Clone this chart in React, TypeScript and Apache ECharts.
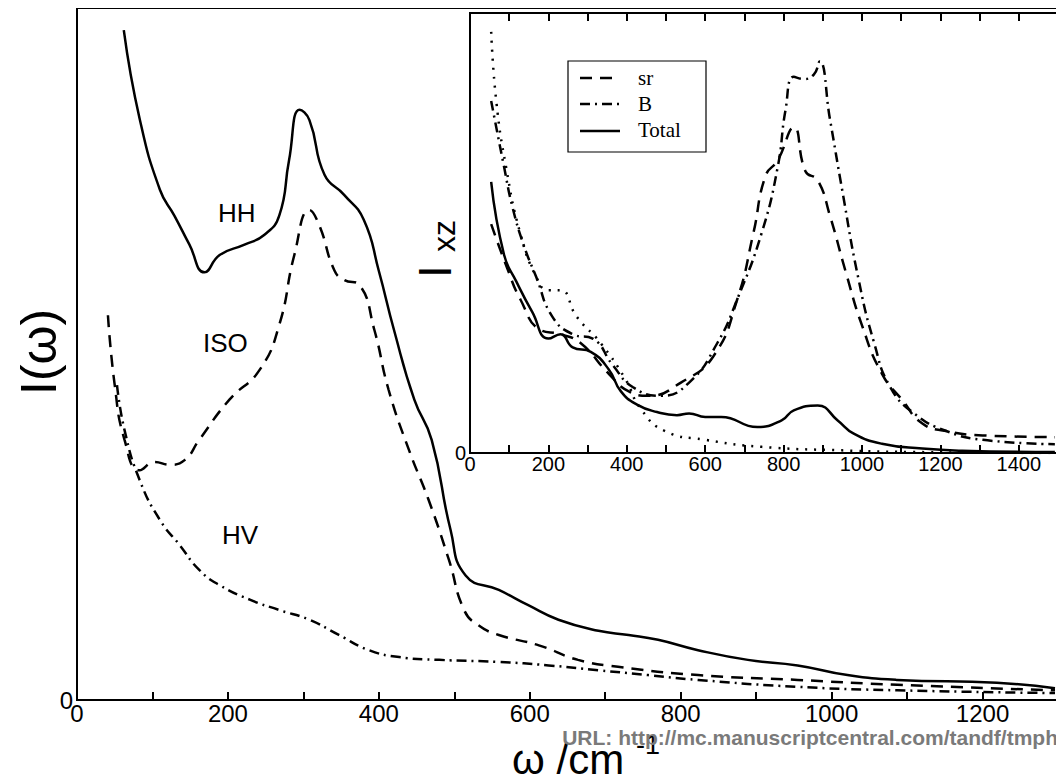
import { useEffect, useRef } from 'react'
import * as echarts from 'echarts'

// main plot: [omega, intensity]
const hh: number[][] = [
  [62, 96.8], [83, 84], [110, 73.7], [129, 70], [149, 65.8], [169, 61.8], [189, 64.3], [222, 65.8],
  [248, 67.2], [268, 70], [281, 78], [295, 85.3], [308, 83.8], [328, 75.9], [354, 73], [380, 69.4],
  [400, 62], [420, 53.5], [447, 43.4], [470, 37.6], [495, 24.6], [515, 18], [559, 15.9], [598, 13.7],
  [638, 11.6], [691, 10], [731, 9.4], [770, 8.7], [823, 7.2], [889, 5.8], [955, 5], [1021, 3.6],
  [1087, 2.9], [1219, 2.5], [1296, 1.7],
]
const iso: number[][] = [
  [41, 55.6], [50, 45.5], [63, 37.6], [83, 33.2], [103, 34.4], [123, 34], [143, 34.7], [162, 37.6],
  [202, 43.4], [242, 47.7], [268, 54.2], [288, 64.3], [308, 70.8], [321, 68.6], [341, 62.1],
  [354, 60.7], [374, 60], [394, 53.5], [413, 44.8], [440, 36.1], [466, 28.9], [493, 20.2], [513, 13],
  [532, 10.8], [559, 9.4], [612, 7.9], [664, 5.8], [717, 4.8], [823, 3.6], [955, 2.9], [1087, 2.2],
  [1296, 1.4],
]
const hv: number[][] = [
  [53, 45.5], [63, 39], [83, 31.8], [110, 26], [136, 22.4], [162, 18.8], [189, 16.6], [229, 14.5],
  [268, 13], [308, 11.6], [347, 9.4], [387, 7.2], [427, 6.2], [480, 5.8], [559, 5.5], [625, 5],
  [691, 4.3], [757, 3.6], [823, 2.9], [955, 1.9], [1087, 1.4], [1296, 1],
]

// inset: I_xz
const dotted: number[][] = [
  [54, 95.7], [67, 80], [92, 65], [128, 50], [169, 40], [200, 37], [231, 37], [272, 31], [333, 25],
  [395, 17], [436, 10], [497, 5], [600, 3], [744, 1.4], [949, 0.6], [1154, 0.2], [1500, 0],
]
const sr: number[][] = [
  [54, 52], [95, 42], [128, 35], [179, 28], [231, 27], [282, 25], [354, 18], [405, 14], [456, 13],
  [538, 16], [621, 22], [682, 35], [723, 50], [754, 63], [785, 66.5], [826, 74], [856, 64], [887, 62],
  [918, 54], [959, 41], [1000, 29], [1051, 18], [1103, 12], [1154, 6.7], [1215, 5], [1308, 4],
  [1492, 3.6],
]
const bSeries: number[][] = [
  [54, 80], [87, 65], [108, 56], [138, 47], [169, 40], [210, 31], [262, 27], [313, 26], [364, 20],
  [415, 15], [487, 13], [559, 16], [631, 25], [682, 35], [744, 50], [785, 65], [805, 78], [826, 85.5],
  [851, 85], [877, 86], [892, 89], [918, 76], [949, 60], [990, 40], [1031, 25], [1072, 15],
  [1133, 9], [1215, 5], [1308, 3], [1492, 2],
]
const total: number[][] = [
  [54, 61.6], [87, 45], [118, 39], [159, 32], [200, 26], [231, 27], [262, 24], [308, 23], [354, 19],
  [385, 14], [426, 11], [477, 9.3], [528, 8.6], [559, 9], [600, 8.2], [641, 8.2], [733, 5.9],
  [795, 7.4], [826, 9.7], [887, 10.8], [938, 7.4], [979, 4.4], [1051, 2.1], [1154, 1], [1256, 0.5],
  [1492, 0.2],
]

const DASH = [12, 8]
const DASHDOT = [10, 5, 2, 5]
const DOT = [2, 7]
const AXIS_FONT = 'Liberation Sans, Arial, sans-serif'

function line(data: number[][], type: number[] | 'solid', xi: number, yi: number) {
  return {
    type: 'line' as const,
    data,
    xAxisIndex: xi,
    yAxisIndex: yi,
    smooth: true,
    showSymbol: false,
    lineStyle: { color: '#000', width: 2.5, type },
    z: xi === 0 ? 2 : 10,
  }
}

function xAx(grid: number, max: number, show: boolean, pos: 'bottom' | 'top', size: number) {
  return {
    type: 'value' as const,
    gridIndex: grid,
    position: pos,
    min: 0,
    max,
    interval: 100,
    axisLine: { show: true, onZero: false, lineStyle: { color: '#000', width: 2 } },
    axisTick: { show: true, inside: true, length: 8, lineStyle: { color: '#000', width: 2 } },
    splitLine: { show: false },
    axisLabel: {
      show,
      color: '#000',
      fontSize: size,
      margin: 1,
      fontFamily: AXIS_FONT,
      formatter: (v: number) => (v % 200 === 0 && v <= (max === 1500 ? 1400 : 1200) ? String(v) : ''),
    },
  }
}

function yAx(grid: number, size: number) {
  return {
    type: 'value' as const,
    gridIndex: grid,
    min: 0,
    max: 100,
    interval: 100,
    axisLine: { show: true, lineStyle: { color: '#000', width: 2 } },
    axisTick: { show: false },
    splitLine: { show: false },
    axisLabel: {
      color: '#000',
      fontSize: size,
      fontFamily: AXIS_FONT,
      margin: 4,
      formatter: (v: number) => (v === 0 ? '0' : ''),
    },
  }
}

export default function App() {
  const ref = useRef<HTMLDivElement>(null)

  useEffect(() => {
    const chart = echarts.init(ref.current!, undefined, { renderer: 'svg' })
    const lx = 580
    chart.setOption({
      animation: false,
      backgroundColor: '#fff',
      grid: [
        { left: 77, top: 8, right: 6, bottom: 82, show: true, borderColor: '#000', borderWidth: 2 },
        {
          left: 470, top: 13, right: 6, bottom: 329, show: true, backgroundColor: '#fff',
          borderColor: '#000', borderWidth: 2, z: 5,
        },
      ],
      xAxis: [
        xAx(0, 1300, true, 'bottom', 24),
        { ...xAx(1, 1500, true, 'bottom', 20), z: 6 },
        { ...xAx(1, 1500, false, 'top', 20), z: 6 },
      ],
      yAxis: [yAx(0, 24), { ...yAx(1, 20), z: 6 }],
      series: [
        line(hh, 'solid', 0, 0),
        line(iso, DASH, 0, 0),
        line(hv, DASHDOT, 0, 0),
        line(dotted, DOT, 1, 1),
        line(sr, DASH, 1, 1),
        line(bSeries, DASHDOT, 1, 1),
        line(total, 'solid', 1, 1),
      ],
      graphic: [
        { type: 'text', left: 218, top: 200, z: 1, style: { text: 'HH', font: '26px Liberation Sans, sans-serif', fill: '#000' } },
        { type: 'text', left: 203, top: 330, z: 1, style: { text: 'ISO', font: '26px Liberation Sans, sans-serif', fill: '#000' } },
        { type: 'text', left: 222, top: 522, z: 1, style: { text: 'HV', font: '26px Liberation Sans, sans-serif', fill: '#000' } },
        {
          type: 'text', x: 14, y: 395, rotation: Math.PI / 2, z: 20,
          style: { text: 'I(ω)', font: '50px Liberation Sans, sans-serif', fill: '#000' },
        },
        {
          type: 'text', x: 412, y: 278, rotation: Math.PI / 2, z: 20,
          style: { text: 'I', font: '46px Liberation Sans, sans-serif', fill: '#000' },
        },
        {
          type: 'text', x: 428, y: 252, rotation: Math.PI / 2, z: 20,
          style: { text: 'xz', font: '32px Liberation Sans, sans-serif', fill: '#000' },
        },
        {
          type: 'text', left: 512, top: 738, z: 20,
          style: { text: 'ω /cm', font: '42px Liberation Sans, sans-serif', fill: '#000' },
        },
        {
          type: 'text', left: 636, top: 731, z: 20,
          style: { text: '-1', font: '27px Liberation Sans, sans-serif', fill: '#000' },
        },
        {
          type: 'text', right: 6, top: 727, z: 21,
          style: { text: 'URL: http://mc.manuscriptcentral.com/tandf/tmph', font: 'bold 21px Liberation Sans, sans-serif', fill: '#7a7a7a' },
        },
        { type: 'rect', shape: { x: 568, y: 61, width: 138, height: 91 }, z: 20, style: { fill: '#fff', stroke: '#000', lineWidth: 1.2 } },
        { type: 'line', shape: { x1: lx, y1: 78, x2: lx + 40, y2: 78 }, z: 21, style: { stroke: '#000', lineWidth: 2.5, lineDash: DASH } },
        { type: 'line', shape: { x1: lx, y1: 104, x2: lx + 40, y2: 104 }, z: 21, style: { stroke: '#000', lineWidth: 2.5, lineDash: DASHDOT } },
        { type: 'line', shape: { x1: lx, y1: 131, x2: lx + 40, y2: 131 }, z: 21, style: { stroke: '#000', lineWidth: 2.5 } },
        { type: 'text', left: 638, top: 67, z: 21, style: { text: 'sr', font: '21px Liberation Serif, serif', fill: '#000' } },
        { type: 'text', left: 638, top: 93, z: 21, style: { text: 'B', font: '21px Liberation Serif, serif', fill: '#000' } },
        { type: 'text', left: 638, top: 119, z: 21, style: { text: 'Total', font: '21px Liberation Serif, serif', fill: '#000' } },
      ],
    })
    return () => chart.dispose()
  }, [])

  return <div ref={ref} style={{ width: 1064, height: 782, margin: -8 }} />
}
